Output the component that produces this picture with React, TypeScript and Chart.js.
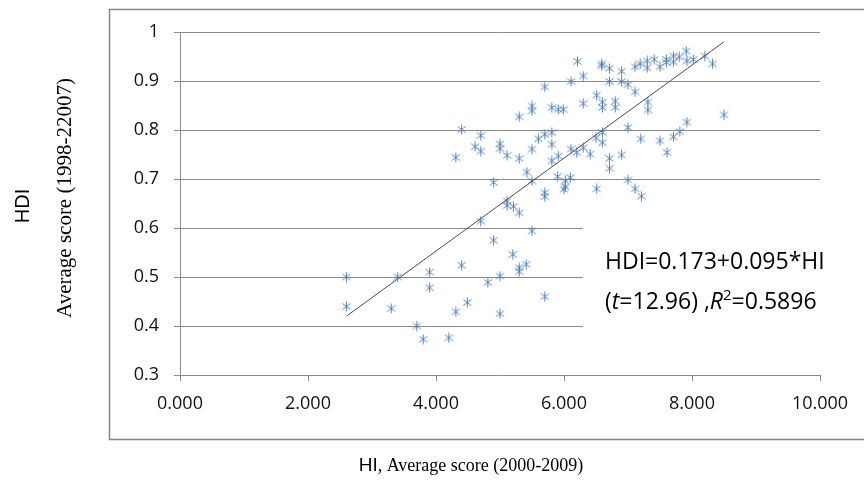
import React, { useEffect, useRef } from 'react';
import { Chart, registerables } from 'chart.js';

Chart.register(...registerables);

// ---- Data ----
const hiValues = [
  2.6, 2.6, 3.4, 3.3, 3.9, 3.9, 3.7, 3.8, 4.2, 4.4, 4.31, 4.49, 4.81, 5.0, 5.0, 4.9, 5.2, 5.3, 5.3, 5.41, 5.7, 5.5,
  4.4, 4.7, 4.61, 4.7, 4.31, 5.0, 5.0, 5.11, 5.3, 5.3, 5.5, 5.5, 5.81, 5.91, 5.99, 6.3, 6.6, 6.6, 6.8, 6.8,
  5.5, 5.6, 5.7, 5.81, 5.81, 5.81, 5.91, 5.42, 5.5, 5.9, 6.02, 6.02, 6.1, 6.0, 5.7, 5.7, 6.11, 6.2, 6.3, 6.41,
  6.51, 6.6, 6.6, 6.5, 6.71, 6.71, 4.9, 5.11, 5.11, 5.21, 5.3, 4.7,
  6.21, 6.59, 6.59, 6.71, 6.9, 7.11, 7.19, 7.3, 7.3, 7.41, 7.5, 7.6, 7.6, 7.71, 7.71, 7.8, 7.91, 7.92, 8.02, 8.2, 8.32,
  6.11, 6.3, 6.71, 6.9, 7.0, 7.11, 6.51, 7.31, 7.31, 8.5, 7.92, 7.81, 7.71, 7.5, 7.61, 7.2, 7.0, 6.9, 7.0, 7.11, 7.21, 5.7,
];
const hdiValues = [
  0.5, 0.44, 0.5, 0.436, 0.51, 0.478, 0.4, 0.373, 0.376, 0.524, 0.429, 0.448, 0.489, 0.502, 0.425, 0.575, 0.546, 0.519, 0.511, 0.526, 0.46, 0.594,
  0.801, 0.789, 0.766, 0.757, 0.744, 0.772, 0.762, 0.748, 0.742, 0.827, 0.849, 0.839, 0.846, 0.842, 0.842, 0.854, 0.857, 0.846, 0.859, 0.846,
  0.761, 0.782, 0.791, 0.795, 0.771, 0.737, 0.747, 0.714, 0.696, 0.705, 0.696, 0.684, 0.703, 0.679, 0.672, 0.664, 0.761, 0.754, 0.764, 0.751,
  0.68, 0.795, 0.774, 0.784, 0.742, 0.722, 0.693, 0.655, 0.646, 0.644, 0.631, 0.614,
  0.94, 0.935, 0.931, 0.926, 0.92, 0.929, 0.935, 0.941, 0.927, 0.944, 0.929, 0.944, 0.938, 0.951, 0.939, 0.949, 0.961, 0.941, 0.944, 0.951, 0.935,
  0.899, 0.91, 0.899, 0.899, 0.893, 0.878, 0.871, 0.857, 0.841, 0.831, 0.816, 0.797, 0.786, 0.778, 0.754, 0.782, 0.805, 0.749, 0.698, 0.68, 0.665, 0.888,
];
const trendHI = [2.6, 8.5];
const trendHDI = [0.42, 0.98];

const xTickValues = [0, 2, 4, 6, 8, 10];
const xTickLabels = ['0.000', '2.000', '4.000', '6.000', '8.000', '10.000'];
const yTickLabels = ['0.3', '0.4', '0.5', '0.6', '0.7', '0.8', '0.9', '1'];

const equationText = 'HDI=0.173+0.095*HI';
const tStatText = '12.96';
const rSquaredText = '0.5896';
const yTitleMain = 'HDI';
const yTitleSub = 'Average score (1998-22007)';
const xTitleMain = 'HI';
const xTitleSub = ', Average score (2000-2009)';

const W = 864;
const H = 498;
const MARKER_COLOR = 'rgba(74,126,187,0.95)';
const GRID_COLOR = '#8a8a8a';
const TICK_FONT = '"Open Sans", "Noto Sans", sans-serif';

function makeStarMarker(): HTMLCanvasElement {
  const c = document.createElement('canvas');
  c.width = 11;
  c.height = 11;
  const g = c.getContext('2d')!;
  g.strokeStyle = MARKER_COLOR;
  g.lineWidth = 1;
  g.beginPath();
  g.moveTo(1.5, 2.5);
  g.lineTo(9.5, 8.5);
  g.moveTo(1.5, 8.5);
  g.lineTo(9.5, 2.5);
  g.moveTo(5.5, 0.5);
  g.lineTo(5.5, 10.5);
  g.stroke();
  return c;
}

const decorPlugin = {
  id: 'decor',
  beforeDatasetsDraw(chart: any) {
    const ctx = chart.ctx;
    const xs = chart.scales.x;
    const ys = chart.scales.y;
    // opaque text box that hides part of the gridlines
    ctx.save();
    ctx.fillStyle = '#ffffff';
    const left = 583;
    const top = ys.getPixelForValue(0.65);
    const bottom = ys.getPixelForValue(0.36);
    ctx.fillRect(left, top, xs.right - left + 4, bottom - top);
    ctx.restore();
  },
  afterDraw(chart: any) {
    const ctx = chart.ctx;
    ctx.save();
    // outer frame
    ctx.strokeStyle = '#858585';
    ctx.lineWidth = 1.5;
    ctx.strokeRect(109.5, 9.5, 820, 430);

    // equation annotation
    ctx.fillStyle = '#000';
    ctx.textAlign = 'left';
    ctx.textBaseline = 'alphabetic';
    const eqFont = '23px "Open Sans", "Noto Sans", sans-serif';
    const eqItalic = 'italic 23px "Open Sans", "Noto Sans", sans-serif';
    const supFont = '15px "Open Sans", "Noto Sans", sans-serif';
    const x0 = 605;
    ctx.font = eqFont;
    ctx.fillText(equationText, x0, 269);
    let x = x0;
    const y2 = 309;
    const parts: [string, string, number][] = [
      ['(', eqFont, 0],
      ['t', eqItalic, 0],
      ['=' + tStatText + ') ,', eqFont, 0],
      ['R', eqItalic, 0],
      ['2', supFont, -9],
      ['=' + rSquaredText, eqFont, 0],
    ];
    for (const [txt, f, dy] of parts) {
      ctx.font = f;
      ctx.fillText(txt, x, y2 + dy);
      x += ctx.measureText(txt).width;
    }

    // y axis titles (rotated)
    ctx.save();
    ctx.translate(23, 206);
    ctx.rotate(-Math.PI / 2);
    ctx.textAlign = 'center';
    ctx.textBaseline = 'middle';
    ctx.font = '20px "Liberation Sans", Arial, sans-serif';
    ctx.fillText(yTitleMain, 0, 0);
    ctx.restore();

    ctx.save();
    ctx.translate(65, 198);
    ctx.rotate(-Math.PI / 2);
    ctx.textAlign = 'center';
    ctx.textBaseline = 'middle';
    ctx.font = '21px "Liberation Serif", "Times New Roman", serif';
    ctx.fillText(yTitleSub, 0, 0);
    ctx.restore();

    // x axis title (mixed fonts)
    const mainFont = '19px "Liberation Sans", Arial, sans-serif';
    const subFont = '18px "Liberation Serif", "Times New Roman", serif';
    ctx.font = mainFont;
    const w1 = ctx.measureText(xTitleMain).width;
    ctx.font = subFont;
    const w2 = ctx.measureText(xTitleSub).width;
    const cx = 471;
    const bx = cx - (w1 + w2) / 2;
    const by = 471;
    ctx.textAlign = 'left';
    ctx.textBaseline = 'alphabetic';
    ctx.font = mainFont;
    ctx.fillText(xTitleMain, bx, by);
    ctx.font = subFont;
    ctx.fillText(xTitleSub, bx + w1, by);
    ctx.restore();
  },
};

export default function App() {
  const canvasRef = useRef<HTMLCanvasElement | null>(null);

  useEffect(() => {
    if (!canvasRef.current) return;
    const marker = makeStarMarker();
    const points = hiValues.map((v, i) => ({ x: v, y: hdiValues[i] }));
    const trend = trendHI.map((v, i) => ({ x: v, y: trendHDI[i] }));

    const chart = new Chart(canvasRef.current, {
      type: 'scatter',
      data: {
        datasets: [
          {
            label: 'trend',
            data: trend,
            showLine: true,
            borderColor: '#4d4d4d',
            borderWidth: 1,
            pointRadius: 0,
            pointHoverRadius: 0,
          } as any,
          {
            label: 'HDI vs HI',
            data: points,
            pointStyle: marker as any,
            pointRadius: 5,
            pointHoverRadius: 5,
            backgroundColor: MARKER_COLOR,
            borderColor: MARKER_COLOR,
          } as any,
        ],
      },
      options: {
        responsive: false,
        animation: false,
        devicePixelRatio: 1,
        events: [],
        layout: { padding: { left: 0, top: 32, right: 44, bottom: 0 } },
        plugins: {
          legend: { display: false },
          tooltip: { enabled: false },
        },
        scales: {
          x: {
            type: 'linear',
            min: 0,
            max: 10,
            afterBuildTicks: (s: any) => {
              s.ticks = xTickValues.map((v) => ({ value: v }));
            },
            afterFit: (s: any) => {
              s.height = H - 375;
            },
            ticks: {
              callback: (_v: any, i: number) => xTickLabels[i],
              font: { family: TICK_FONT, size: 18 },
              color: '#111',
              padding: 12,
              maxRotation: 0,
              autoSkip: false,
            },
            grid: {
              drawOnChartArea: false,
              drawTicks: true,
              tickLength: 6,
              color: GRID_COLOR,
            },
            border: { display: true, color: GRID_COLOR, width: 1 },
          },
          y: {
            type: 'linear',
            min: 0.3,
            max: 1,
            afterFit: (s: any) => {
              s.width = 180;
            },
            ticks: {
              stepSize: 0.1,
              callback: (_v: any, i: number) => yTickLabels[i],
              font: { family: TICK_FONT, size: 18 },
              color: '#111',
              padding: 15,
            },
            grid: {
              color: GRID_COLOR,
              tickLength: 6,
              drawTicks: true,
            },
            border: { display: true, color: GRID_COLOR, width: 1 },
          },
        },
      } as any,
      plugins: [decorPlugin],
    });
    return () => chart.destroy();
  }, []);

  return (
    <div style={{ position: 'absolute', left: 0, top: 0, width: W, height: H, background: '#fff' }}>
      <canvas ref={canvasRef} width={W} height={H} style={{ display: 'block', width: W, height: H }} />
    </div>
  );
}
